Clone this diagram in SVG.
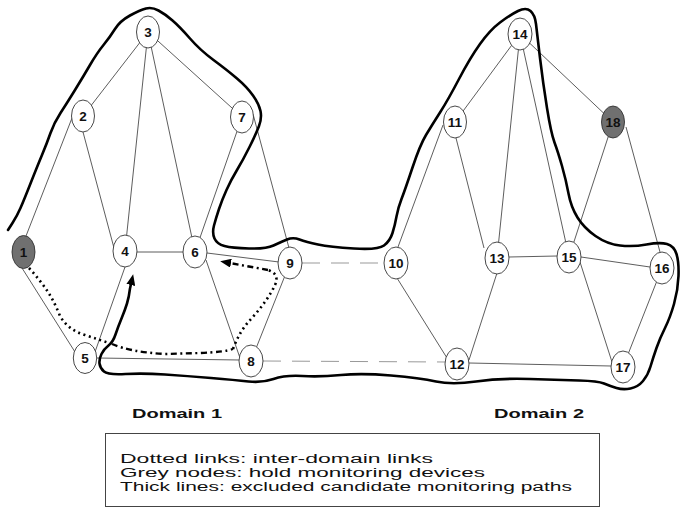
<svg xmlns="http://www.w3.org/2000/svg" width="681" height="508" viewBox="0 0 681 508">
<style>
.e{stroke:#333;stroke-width:0.8;fill:none}
.d{stroke:#999;stroke-width:1;stroke-dasharray:18,11;fill:none}
.n ellipse{fill:#fff;stroke:#333;stroke-width:0.9}
.n.g ellipse{fill:#707070}
.n text{font-family:"Liberation Sans",Arial,sans-serif;font-weight:bold;font-size:13.5px;text-anchor:middle;fill:#111}
.thick{stroke:#000;stroke-width:2.6;fill:none;stroke-linejoin:round;stroke-linecap:round}
.dot{stroke:#000;stroke-width:2.6;fill:none;stroke-dasharray:2,3.5}
.dd{stroke:#000;stroke-width:2.4;fill:none;stroke-dasharray:6,3.5,2,3.5}
.lab{font-family:"Liberation Sans",Arial,sans-serif;font-weight:bold;font-size:13px;fill:#111}
.leg{font-family:"Liberation Sans",Arial,sans-serif;font-size:12.5px;fill:#111}
</style>
<defs>
<marker id="ah" markerUnits="userSpaceOnUse" markerWidth="12" markerHeight="9" refX="1" refY="4.5" orient="auto">
<path d="M0,0 L11,4.5 L0,9 z" fill="#000"/>
</marker>
</defs>
<g id="connectors">
<line class="e" x1="148" y1="32" x2="83" y2="116"/>
<line class="e" x1="148" y1="32" x2="242" y2="117"/>
<line class="e" x1="148" y1="32" x2="125" y2="251"/>
<line class="e" x1="148" y1="32" x2="195" y2="252"/>
<line class="e" x1="72" y1="118" x2="26" y2="236"/>
<line class="e" x1="83" y1="132" x2="114" y2="248"/>
<line class="e" x1="242" y1="117" x2="195" y2="252"/>
<line class="e" x1="253" y1="114" x2="289" y2="248"/>
<line class="e" x1="22" y1="268" x2="75" y2="352"/>
<line class="e" x1="137" y1="252" x2="185" y2="252"/>
<line class="e" x1="125" y1="267" x2="95" y2="352"/>
<line class="e" x1="207" y1="253" x2="279" y2="262"/>
<line class="e" x1="206" y1="260" x2="240" y2="358"/>
<line class="e" x1="97" y1="358" x2="240" y2="360"/>
<line class="e" x1="290" y1="263" x2="251" y2="361"/>
<line class="e" x1="520" y1="34" x2="455" y2="122"/>
<line class="e" x1="520" y1="34" x2="497" y2="258"/>
<line class="e" x1="520" y1="34" x2="569" y2="257"/>
<line class="e" x1="520" y1="34" x2="613" y2="122"/>
<line class="e" x1="443" y1="125" x2="398" y2="247"/>
<line class="e" x1="456" y1="138" x2="484" y2="248"/>
<line class="e" x1="613" y1="122" x2="569" y2="257"/>
<line class="e" x1="626" y1="127" x2="660" y2="252"/>
<line class="e" x1="397" y1="278" x2="447" y2="358"/>
<line class="e" x1="509" y1="257" x2="557" y2="256"/>
<line class="e" x1="497" y1="273" x2="469" y2="360"/>
<line class="e" x1="581" y1="257" x2="650" y2="267"/>
<line class="e" x1="580" y1="262" x2="612" y2="362"/>
<line class="e" x1="662" y1="268" x2="623" y2="367"/>
<line class="e" x1="469" y1="363" x2="611" y2="366"/>
<line class="d" x1="302" y1="263" x2="384" y2="263"/>
<line class="d" x1="263" y1="361" x2="446" y2="362"/>
</g>
<g id="thick-path">
<path class="thick" marker-end="url(#ah)" d="M8,230 L12.5,223 Q17,216 20.5,208 Q24,200 30.5,183.5 Q37,167 42,155 Q47,143 50.5,133 Q54,123 60.5,113 Q67,103 75,90 Q83,77 90,65 Q97,53 103.5,45 Q110,37 115,29 Q120,21 130,15.5 Q140,10 146,8.5 Q152,7 158.5,10.5 Q165,14 172.5,20.5 Q180,27 190,38.5 Q200,50 213.5,60 Q227,70 237,78.5 Q247,87 253,95.5 Q259,104 260.5,111 Q262,118 259,126 Q256,134 249.5,147 Q243,160 237,170 Q231,180 226.5,190 Q222,200 219,209 Q216,218 214,225.5 Q212,233 214.5,238.5 Q217,244 224.5,246 Q232,248 249,248.5 Q266,249 273.5,245.5 Q281,242 287,239.5 Q293,237 299.5,239.5 Q306,242 318,244.5 Q330,247 354,248.5 Q378,250 384,245.5 Q390,241 392.5,233 Q395,225 396.5,216.5 Q398,208 401.5,199 Q405,190 412.5,167.5 Q420,145 426,135 Q432,125 440,112.5 Q448,100 459,79 Q470,58 480,44 Q490,30 500,22.5 Q510,15 518,11 Q526,7 530.5,11 Q535,15 536,24 Q537,33 540,58 Q543,83 547,108 Q551,133 554.5,142.5 Q558,152 562,166 Q566,180 568.5,193.5 Q571,207 577.5,217.5 Q584,228 595.5,236 Q607,244 620,245.5 Q633,247 646.5,244.5 Q660,242 667,244 Q674,246 676.5,254 Q679,262 678.5,276 Q678,290 674,304 Q670,318 665,328 Q660,338 656.5,348 Q653,358 650.5,366.5 Q648,375 643,381 Q638,387 630.5,388.5 Q623,390 616.5,388 Q610,386 604,383.5 Q598,381 579,380.5 Q560,380 530,379 Q500,378 476,381.5 Q452,385 436,381.5 Q420,378 391,375.5 Q362,373 341,375 Q320,377 302.5,376 Q285,375 273.5,379 Q262,383 248.5,381.5 Q235,380 211,378 Q187,376 165,374.5 Q143,373 125.5,374 Q108,375 104,371.5 Q100,368 99.5,363.5 Q99,359 101.5,354 Q104,349 108.5,345.5 Q113,342 115.5,334.5 Q118,327 121.5,318.5 Q125,310 127,303.5 Q129,297 130,288.5 L131,284"/>
</g>
<g id="dotted-path">
<path class="dot" d="M29,268 Q40,280 48,292 Q55,303 60,316 Q68,330 85,335 Q100,340 112,344"/>
<path class="dd" d="M112,344 Q130,352 165,354 L200,353 Q225,352 233,349"/>
<path class="dot" d="M233,349 Q240,330 252,318 Q268,300 275,285 Q280,274 268,270"/>
<path class="dd" marker-end="url(#ah)" d="M268,270 L230,263"/>
</g>
<g id="n1" class="n g"><ellipse cx="23.5" cy="252" rx="11.5" ry="16.5"/><text x="23.5" y="257">1</text></g>
<g id="n2" class="n"><ellipse cx="83" cy="116" rx="11.5" ry="16"/><text x="83" y="121">2</text></g>
<g id="n3" class="n"><ellipse cx="148" cy="32" rx="11.5" ry="16"/><text x="148" y="37">3</text></g>
<g id="n4" class="n"><ellipse cx="125" cy="251" rx="12" ry="16"/><text x="125" y="256">4</text></g>
<g id="n5" class="n"><ellipse cx="85" cy="358" rx="11.7" ry="15.5"/><text x="85" y="363">5</text></g>
<g id="n6" class="n"><ellipse cx="195" cy="252" rx="12" ry="16"/><text x="195" y="257">6</text></g>
<g id="n7" class="n"><ellipse cx="242" cy="117" rx="11.5" ry="16"/><text x="242" y="122">7</text></g>
<g id="n8" class="n"><ellipse cx="251" cy="361" rx="12" ry="16"/><text x="251" y="366">8</text></g>
<g id="n9" class="n"><ellipse cx="290" cy="263" rx="12" ry="16"/><text x="290" y="268">9</text></g>
<g id="n10" class="n"><ellipse cx="396" cy="263" rx="12" ry="16"/><text x="396" y="268">10</text></g>
<g id="n11" class="n"><ellipse cx="455" cy="122" rx="11.5" ry="16"/><text x="455" y="127">11</text></g>
<g id="n12" class="n"><ellipse cx="457" cy="364" rx="12" ry="16"/><text x="457" y="369">12</text></g>
<g id="n13" class="n"><ellipse cx="497" cy="258" rx="12" ry="16"/><text x="497" y="263">13</text></g>
<g id="n14" class="n"><ellipse cx="520" cy="34" rx="12" ry="16"/><text x="520" y="39">14</text></g>
<g id="n15" class="n"><ellipse cx="569" cy="257" rx="12" ry="16"/><text x="569" y="262">15</text></g>
<g id="n16" class="n"><ellipse cx="662" cy="268" rx="12" ry="16"/><text x="662" y="273">16</text></g>
<g id="n17" class="n"><ellipse cx="623" cy="367" rx="12" ry="16"/><text x="623" y="372">17</text></g>
<g id="n18" class="n g"><ellipse cx="613" cy="122" rx="11.5" ry="16"/><text x="613" y="127">18</text></g>
<g id="labels">
<text class="lab" x="132" y="418" textLength="90" lengthAdjust="spacingAndGlyphs">Domain 1</text>
<text class="lab" x="494" y="418" textLength="90" lengthAdjust="spacingAndGlyphs">Domain 2</text>
</g>
<g id="legend">
<rect x="105.5" y="433.5" width="494" height="73" fill="#fff" stroke="#444" stroke-width="1"/>
<text class="leg" x="120" y="463" textLength="313" lengthAdjust="spacingAndGlyphs">Dotted links: inter-domain links</text>
<text class="leg" x="120" y="477" textLength="365" lengthAdjust="spacingAndGlyphs">Grey nodes: hold monitoring devices</text>
<text class="leg" x="120" y="491" textLength="452" lengthAdjust="spacingAndGlyphs">Thick lines: excluded candidate monitoring paths</text>
</g>
</svg>
